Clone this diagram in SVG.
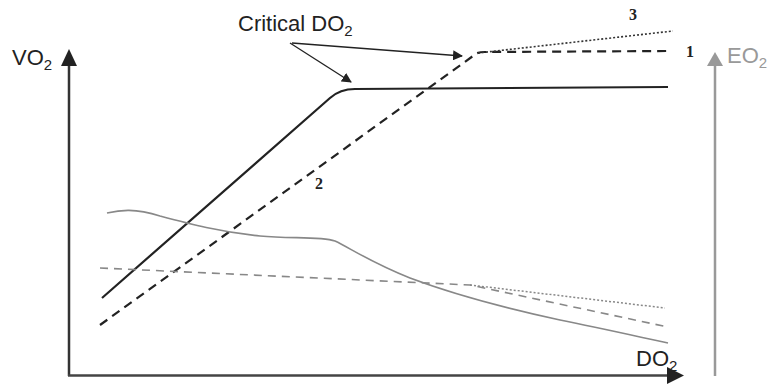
<svg xmlns="http://www.w3.org/2000/svg" width="773" height="387" viewBox="0 0 773 387">
<style>
.lbl{font-family:"Liberation Sans",Arial,sans-serif;font-size:22px;fill:#222}
.sub{font-size:15px}
.num{font-family:"Liberation Serif","Times New Roman",serif;font-size:16px;font-weight:bold;fill:#222}
.blk{fill:none;stroke:#222;stroke-width:2.2}
.gry{fill:none;stroke:#888;stroke-width:1.6}
</style>
<defs>
<marker id="ah" markerWidth="10" markerHeight="10" refX="9" refY="5" orient="auto" markerUnits="userSpaceOnUse"><path d="M0,0 L10,5 L0,10 Z" fill="#222"/></marker>
</defs>
<rect width="773" height="387" fill="#fff"/>
<g id="axes">
<path d="M69,376 V62" stroke="#333" stroke-width="2.5" fill="none"/>
<path d="M61,66 L69,49 L77,66 Z" fill="#222"/>
<path d="M68,375.5 H670" stroke="#444" stroke-width="2.5" fill="none"/>
<path d="M667,367 L684,375.5 L667,384 Z" fill="#222"/>
<path d="M715,376 V62" stroke="#999" stroke-width="2.5" fill="none"/>
<path d="M707,66 L715,52 L723,66 Z" fill="#999"/>
</g>
<g id="labels">
<text class="lbl" x="12" y="65">VO<tspan class="sub" dy="5">2</tspan></text>
<text class="lbl" x="727" y="63" style="fill:#999">EO<tspan class="sub" dy="5">2</tspan></text>
<text class="lbl" x="636" y="366">DO<tspan class="sub" dy="5">2</tspan></text>
<text class="lbl" x="238" y="31">Critical DO<tspan class="sub" dy="5">2</tspan></text>
<text class="num" x="629" y="20">3</text>
<text class="num" x="686" y="57">1</text>
<text class="num" x="315" y="189">2</text>
</g>
<g id="connectors">
<line x1="290" y1="43" x2="351" y2="82" stroke="#222" stroke-width="1.3" marker-end="url(#ah)"/>
<line x1="292" y1="43" x2="462" y2="56" stroke="#222" stroke-width="1.3" marker-end="url(#ah)"/>
</g>
<g id="curves">
<path class="blk" d="M102,298 L330,98 Q340,89 355,89 L668,87"/>
<path class="blk" stroke-dasharray="9,6" d="M100,325 L473,56 Q476,52 485,52 L670,51"/>
<path fill="none" stroke="#333" stroke-width="1.6" stroke-dasharray="2,2" d="M478,53 L673,31"/>
<path class="gry" d="M107,213 C120,210 135,208 160,216 C190,224 220,232 260,236 C290,239 320,236 335,241 C350,248 370,262 410,278 C450,293 500,307 560,320 C600,328 640,337 668,343"/>
<path class="gry" stroke-dasharray="8,6" d="M100,268 L470,285 L668,327"/>
<path fill="none" stroke="#888" stroke-width="1.5" stroke-dasharray="2,2" d="M470,285 L665,308"/>
</g>
</svg>
